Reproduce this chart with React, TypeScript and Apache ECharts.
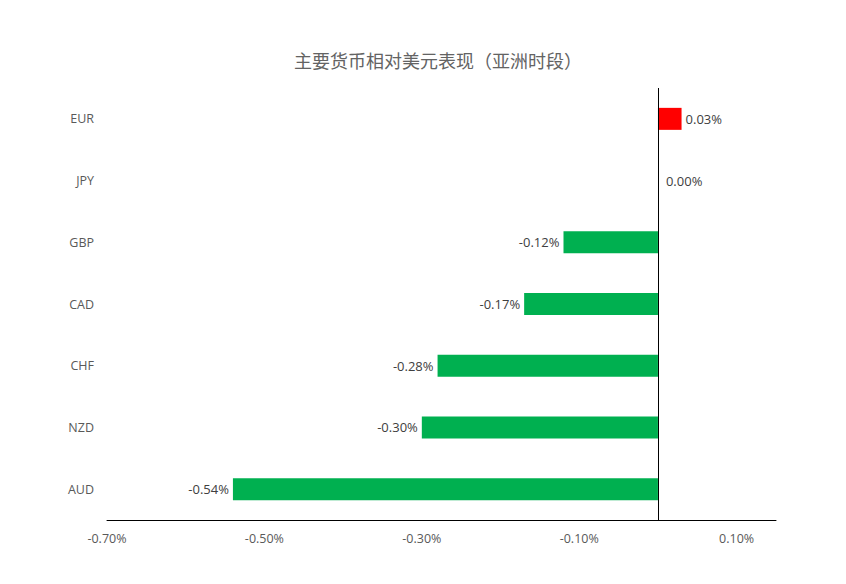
import React, { useEffect, useRef } from 'react';
import * as echarts from 'echarts';

const titleText = '主要货币相对美元表现（亚洲时段）';
const currencies = ['AUD', 'NZD', 'CHF', 'CAD', 'GBP', 'JPY', 'EUR'];
const changes = [-0.54, -0.3, -0.28, -0.17, -0.12, 0.0, 0.03];
const shownTicks = [-0.7, -0.5, -0.3, -0.1, 0.1];

const App: React.FC = () => {
  const chartRef = useRef<HTMLDivElement>(null);

  useEffect(() => {
    if (!chartRef.current) return;
    const chart = echarts.init(chartRef.current, undefined, { renderer: 'svg' });

    const option = {
      animation: false,
      backgroundColor: '#ffffff',
      title: {
        text: titleText,
        left: 289,
        top: 46,
        textStyle: {
          fontFamily: 'Noto Sans CJK SC',
          fontSize: 18,
          fontWeight: 'normal',
          color: '#636363'
        }
      },
      grid: {
        left: 107,
        right: 70,
        top: 88,
        bottom: 64,
        containLabel: false
      },
      xAxis: {
        type: 'value',
        min: -0.7,
        max: 0.15,
        interval: 0.1,
        axisLine: { show: true, onZero: false, lineStyle: { color: '#000', width: 1 } },
        axisTick: { show: false },
        splitLine: { show: false },
        axisLabel: {
          margin: 12,
          fontFamily: 'Open Sans',
          fontSize: 12.5,
          color: '#595959',
          showMaxLabel: false,
          formatter: (v: number) => {
            const hit = shownTicks.some((t) => Math.abs(t - v) < 1e-6);
            return hit ? v.toFixed(2) + '%' : '';
          }
        }
      },
      yAxis: {
        type: 'category',
        data: currencies,
        axisLine: { show: false },
        axisTick: { show: false },
        splitLine: { show: false },
        axisLabel: {
          margin: 13,
          fontFamily: 'Open Sans',
          fontSize: 12.5,
          color: '#595959'
        }
      },
      series: [
        {
          type: 'bar',
          barWidth: 22,
          data: changes.map((v) => ({
            value: v,
            itemStyle: { color: v > 0 ? '#ff0000' : '#00b050' },
            label: { position: v < 0 ? 'left' : 'right', distance: v === 0 ? 8 : 4 }
          })),
          label: {
            show: true,
            fontFamily: 'Open Sans',
            fontSize: 13,
            color: '#404040',
            formatter: (p: any) => p.value.toFixed(2) + '%'
          },
          markLine: {
            silent: true,
            symbol: ['none', 'none'],
            label: { show: false },
            lineStyle: { color: '#000', width: 1, type: 'solid' },
            data: [{ xAxis: 0 }]
          }
        }
      ]
    };

    chart.setOption(option);
    return () => {
      chart.dispose();
    };
  }, []);

  return (
    <div
      ref={chartRef}
      style={{ position: 'fixed', left: 0, top: 0, width: 846, height: 584 }}
    />
  );
};

export default App;
